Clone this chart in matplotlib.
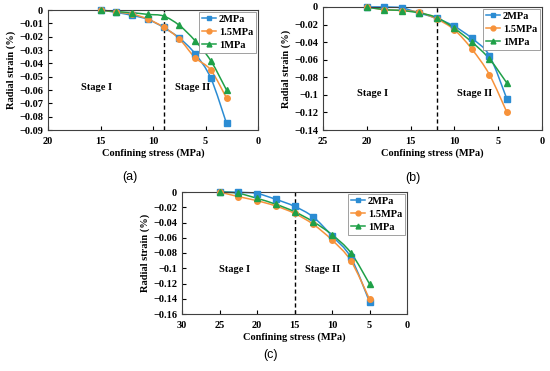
import numpy as np
import matplotlib.pyplot as plt
from matplotlib.path import Path
from matplotlib.patches import PathPatch
from matplotlib.lines import Line2D
from matplotlib.ticker import FuncFormatter

plt.rcParams['font.family'] = ['Liberation Serif', 'DejaVu Serif']
plt.rcParams['font.weight'] = 'bold'
plt.rcParams['axes.labelweight'] = 'bold'
plt.rcParams['axes.unicode_minus'] = True

# datos
x_a = [15, 13.5, 12, 10.5, 9, 7.5, 6, 4.5, 3]
a_2mpa = [0, -0.0018, -0.004, -0.007, -0.013, -0.021, -0.0327, -0.051, -0.085]
a_15mpa = [0, -0.0015, -0.003, -0.0068, -0.0128, -0.0216, -0.0357, -0.045, -0.066]
a_1mpa = [0, -0.0012, -0.002, -0.0033, -0.0045, -0.0115, -0.023, -0.038, -0.060]

x_b = [20, 18, 16, 14, 12, 10, 8, 6, 4]
b_2mpa = [0, 0, -0.001, -0.007, -0.013, -0.022, -0.0357, -0.0555, -0.105]
b_15mpa = [0, -0.003, -0.004, -0.006, -0.0137, -0.026, -0.048, -0.077, -0.12]
b_1mpa = [0, -0.003, -0.004, -0.0068, -0.012, -0.0243, -0.040, -0.059, -0.0867]

x_c = [25, 22.5, 20, 17.5, 15, 12.5, 10, 7.5, 5]
c_2mpa = [0, -0.0004, -0.002, -0.0096, -0.0188, -0.0328, -0.0576, -0.0856, -0.144]
c_15mpa = [0, -0.006, -0.0114, -0.0183, -0.028, -0.0424, -0.063, -0.090, -0.1406]
c_1mpa = [0, -0.0017, -0.0083, -0.016, -0.0258, -0.039, -0.056, -0.0795, -0.1205]

series_names = ['2MPa', '1.5MPa', '1MPa']
colores = ['#2B8CD3', '#F7923A', '#1FA048']
marcadores = ['s', 'o', '^']

W, H = 550, 371


def curva_suave(ax, x, y, color):
    # curva tipo excel (bezier) que pasa por los puntos
    p = np.column_stack([x, y]).astype(float)
    n = len(p)
    verts = [p[0]]
    codes = [Path.MOVETO]
    for i in range(n - 1):
        p0 = p[i - 1] if i > 0 else p[i]
        p3 = p[i + 2] if i + 2 < n else p[i + 1]
        c1 = p[i] + (p[i + 1] - p0) / 6
        c2 = p[i + 1] - (p3 - p[i]) / 6
        verts += [c1, c2, p[i + 1]]
        codes += [Path.CURVE4] * 3
    ax.add_patch(PathPatch(Path(verts, codes), fill=False, edgecolor=color, lw=1.1, clip_on=False))


def fmt_y(v, pos):
    if abs(v) < 1e-9:
        return '0'
    return f'{v:g}'.replace('-', '\u2212')


def panel(rect, x, ys, xmax, ymin, ystep, corte, stage1, stage2, letra, letra_pos):
    l, t, r, b = rect
    ax = fig.add_axes([l / W, 1 - b / H, (r - l) / W, (b - t) / H])
    for y, c, m, nm in zip(ys, colores, marcadores, series_names):
        curva_suave(ax, x, y, c)
        ax.plot(x, y, ls='none', marker=m, ms=4, color=c, clip_on=False, label=nm, zorder=3)
    ax.axvline(corte, color='black', ls='--', lw=1, dashes=(3, 2))
    ax.set_xlim(xmax, 0)
    ax.set_ylim(ymin, 0)
    ax.set_xticks(np.arange(xmax, -1, -5))
    ax.set_yticks(np.arange(0, ymin - ystep / 2, -ystep))
    ax.yaxis.set_major_formatter(FuncFormatter(fmt_y))
    ax.tick_params(direction='in', length=3, labelsize=7.5, width=0.8)
    ax.tick_params(axis='x', pad=5)
    for s in ax.spines.values():
        s.set_linewidth(0.8)
        s.set_color('#404040')
    ax.set_xlabel('Confining stress (MPa)', fontsize=7.5, labelpad=2)
    ax.set_ylabel('Radial strain (%)', fontsize=7.5, labelpad=2)
    ax.text(stage1[0], stage1[1], 'Stage I', fontsize=7.5, ha='center', va='center')
    ax.text(stage2[0], stage2[1], 'Stage II', fontsize=7.5, ha='center', va='center')
    handles = [Line2D([], [], color=c, marker=m, ms=3.5, lw=1.1) for c, m in zip(colores, marcadores)]
    leg = ax.legend(handles, series_names, loc='upper right', bbox_to_anchor=(1, 1), fontsize=7.5,
                    handlelength=1.3, handletextpad=0.3, borderaxespad=0.15, labelspacing=0.35,
                    fancybox=False, framealpha=1, edgecolor='#909090', borderpad=0.3)
    leg.get_frame().set_linewidth(0.6)
    fig.text(letra_pos[0] / W, 1 - letra_pos[1] / H, letra, fontsize=9, ha='center', va='center',
             family='Liberation Sans', weight='normal')
    return ax


fig = plt.figure(figsize=(W / 100, H / 100), dpi=100)

panel((48, 10, 258, 130), x_a, [a_2mpa, a_15mpa, a_1mpa], 20, -0.09, 0.01, 9,
      (15.4, -0.058), (6.2, -0.058), '(a)', (130, 177))
panel((323, 7, 542, 130), x_b, [b_2mpa, b_15mpa, b_1mpa], 25, -0.14, 0.02, 12,
      (19.3, -0.099), (7.7, -0.099), '(b)', (413, 178))
panel((182, 192, 407, 314), x_c, [c_2mpa, c_15mpa, c_1mpa], 30, -0.16, 0.02, 15,
      (23, -0.102), (11.3, -0.102), '(c)', (270, 355))

fig.savefig('out.png', dpi=100)
